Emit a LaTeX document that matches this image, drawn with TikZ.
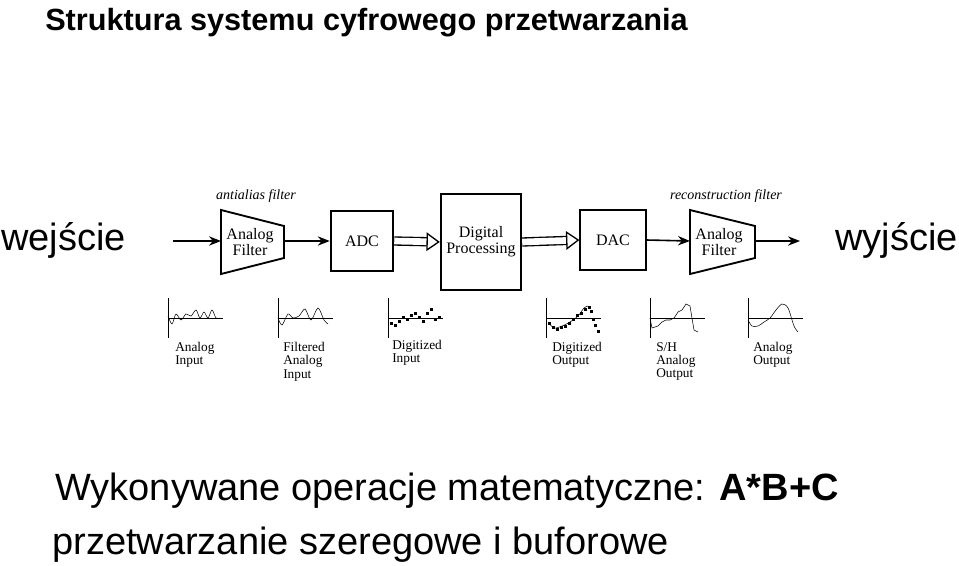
\documentclass[tikz,border=0pt]{standalone}
\usepackage{fontspec}
\setmainfont{Liberation Sans}
\newfontfamily\serif{Liberation Serif}
\usetikzlibrary{arrows.meta}
\tikzstyle{block}=[draw, line width=1.4pt, inner sep=0pt, align=center, font=\serif\fontsize{12}{12}\selectfont]
\tikzstyle{ftext}=[inner sep=0pt, align=center, font=\serif\fontsize{12}{12}\selectfont]
\tikzstyle{wire}=[draw, line width=1.2pt, -{Stealth[length=9pt,width=7pt]}]
\tikzstyle{bus}=[draw, line width=1pt, double distance=5pt, -{Triangle[open,length=10pt,width=14pt,line width=1pt]}]
\tikzstyle{lbl}=[anchor=north west, align=left, inner sep=0pt, font=\serif\fontsize{10}{10}\selectfont]
\newcommand{\axes}[1]{\draw[thin] (#1,298) -- (#1,338) (#1,318) -- ++(55,0);}

\begin{document}
\begin{tikzpicture}[x=0.75pt, y=-0.75pt]
\useasboundingbox (0,0) rectangle (959,565);
\node[anchor=base west, inner sep=0pt, font=\bfseries\fontsize{23}{23}\selectfont] (title) at (45,30) {Struktura systemu cyfrowego przetwarzania};
\node[anchor=west, inner sep=0pt, font=\fontsize{28.5}{28.5}\selectfont] (in) at (1,240) {wejście};
\node[anchor=east, inner sep=0pt, font=\fontsize{28.5}{28.5}\selectfont] (out) at (958,240) {wyjście};
% blocks
\draw[line width=1.4pt] (221,210) -- (284,226) -- (284,258) -- (221,274) -- cycle;
\node[ftext] (f1) at (250,242) {Analog\\Filter};
\draw[line width=1.4pt] (690,210) -- (755,226) -- (755,258) -- (690,274) -- cycle;
\node[ftext] (f2) at (719,242) {Analog\\Filter};
\node[block, minimum width=47pt, minimum height=45pt] (adc) at (362,241) {ADC};
\node[block, minimum width=60pt, minimum height=72pt, line width=1.8pt] (dp) at (481,242) {Digital\\Processing};
\node[block, minimum width=49pt, minimum height=45pt] (dac) at (613,240) {DAC};
\coordinate (a0) at (173,241);
\coordinate (f1w) at (221,241);
\coordinate (f1e) at (284,241);
\coordinate (f2w) at (690,241);
\coordinate (f2e) at (755,241);
\coordinate (a9) at (800,241);
\node[font=\serif\itshape\fontsize{10.5}{10.5}\selectfont] (aa) at (256,196) {antialias filter};
\node[font=\serif\itshape\fontsize{10.5}{10.5}\selectfont] (rf) at (726,196) {reconstruction filter};
% connectors
\path[wire] (a0) -- (f1w);
\path[wire] (f1e) -- (adc.west);
\path[bus] (adc.east) -- (dp.west);
\path[bus] (dp.east) -- (dac.west);
\path[wire] (dac.east) -- (f2w);
\path[wire] (f2e) -- (a9);
% signals
\axes{168} \axes{278} \axes{388} \axes{546} \axes{650} \axes{748}
\draw[thin] plot[smooth] coordinates {(168,316) (172,324) (176,314) (181,320) (186,314) (191,316) (196,310) (200,318) (204,312) (208,318) (212,310) (216,318) (220,318)};
\draw[thin] plot[smooth] coordinates {(278,318) (282,325) (288,314) (293,318) (299,316) (305,309) (311,320) (318,308) (324,320) (328,324)};
\foreach \x/\y in {390/322,394/324,398/320,402/316,406/318,410/314,414/312,418/316,422/320,426/312,430/308,434/318,438/316}
  \fill (\x,\y) rectangle ++(2.5,2.5);
\draw[thin] plot[smooth] coordinates {(548,322) (554,328) (562,326) (570,322) (578,316) (584,308) (588,306)};
\foreach \x/\y in {548/322,552/326,556/328,560/326,564/325,568/322,572/318,576/314,580/312,584/308,588/306,590/310,592/318,594/324,597/330}
  \fill (\x,\y) rectangle ++(2.5,2.5);
\draw[thin] (650,318) -- (652,328) -- (658,326) -- (662,322) -- (666,320) -- (670,320) -- (674,318) -- (678,312) -- (682,310) -- (686,304) -- (690,306) -- (692,318) -- (694,330) -- (698,332);
\draw[thin] plot[smooth] coordinates {(748,320) (752,326) (758,326) (764,322) (770,318) (776,310) (782,304) (788,308) (794,326) (798,332)};
% captions
\node[lbl] (c1) at (175,342) {Analog\\Input};
\node[lbl] (c2) at (283,342) {Filtered\\Analog\\Input};
\node[lbl] (c3) at (392,340) {Digitized\\Input};
\node[lbl] (c4) at (552,342) {Digitized\\Output};
\node[lbl] (c5) at (656,342) {S/H\\Analog\\Output};
\node[lbl] (c6) at (753,342) {Analog\\Output};
% text
\node[anchor=base west, inner sep=0pt, font=\fontsize{28.5}{28.5}\selectfont] (t1) at (55,500) {Wykonywane operacje matematyczne: \textbf{A*B+C}};
\node[anchor=base west, inner sep=0pt, font=\fontsize{28.5}{28.5}\selectfont] (t2) at (52,554) {przetwarzanie szeregowe i buforowe};
\end{tikzpicture}
\end{document}
